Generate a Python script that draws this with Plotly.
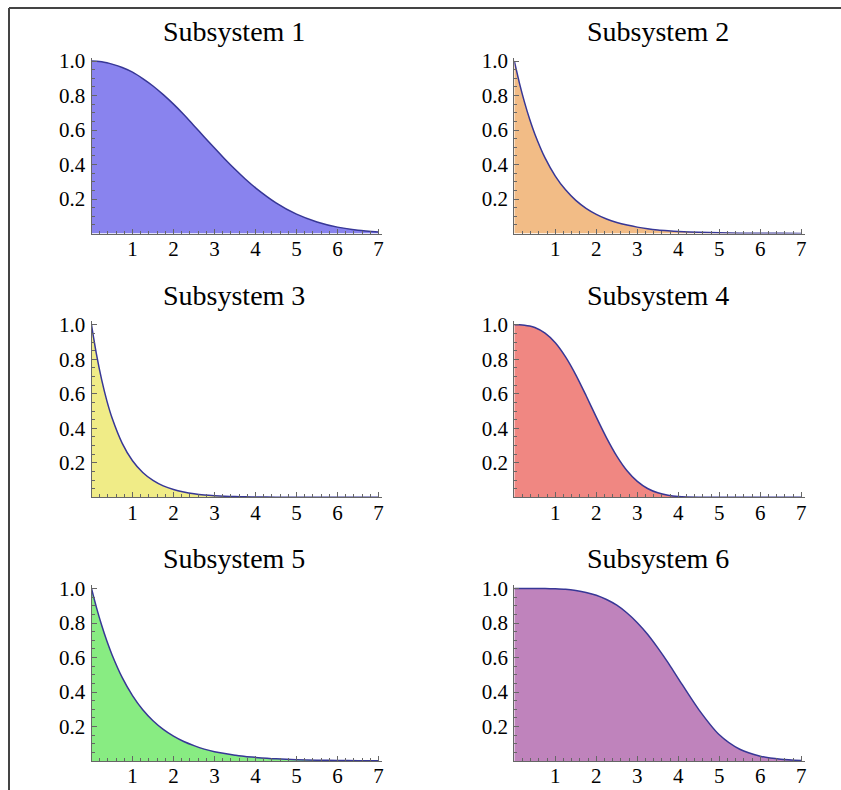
import plotly.graph_objects as go

# ---------------- data ----------------
titles = ["Subsystem 1", "Subsystem 2", "Subsystem 3",
          "Subsystem 4", "Subsystem 5", "Subsystem 6"]

t = [0, 0.125, 0.25, 0.375, 0.5, 0.75, 1, 1.25, 1.5, 1.75, 2, 2.25, 2.5,
     2.75, 3, 3.25, 3.5, 3.75, 4, 4.5, 5, 5.5, 6, 6.5, 7]

r1 = [1.0, 0.999, 0.996, 0.990, 0.982, 0.962, 0.935, 0.898, 0.855, 0.805,
      0.750, 0.690, 0.625, 0.560, 0.495, 0.432, 0.372, 0.316, 0.265, 0.178,
      0.112, 0.067, 0.037, 0.019, 0.009]
r2 = [1.0, 0.872, 0.760, 0.662, 0.577, 0.438, 0.333, 0.253, 0.192, 0.146,
      0.111, 0.084, 0.064, 0.049, 0.037, 0.028, 0.021, 0.016, 0.012, 0.007,
      0.004, 0.002, 0.0013, 0.0008, 0.0005]
r3 = [1.0, 0.824, 0.679, 0.559, 0.461, 0.313, 0.212, 0.144, 0.098, 0.066,
      0.045, 0.031, 0.021, 0.014, 0.0096, 0.0065, 0.0044, 0.003, 0.002,
      0.0009, 0.0004, 0.0002, 0.0001, 0.0, 0.0]
r4 = [1.0, 1.0, 0.998, 0.993, 0.984, 0.952, 0.896, 0.814, 0.710, 0.590,
      0.465, 0.345, 0.239, 0.154, 0.092, 0.051, 0.026, 0.012, 0.005, 0.0006,
      0.0, 0.0, 0.0, 0.0, 0.0]
r5 = [1.0, 0.886, 0.785, 0.695, 0.616, 0.483, 0.379, 0.297, 0.233, 0.183,
      0.144, 0.113, 0.089, 0.069, 0.054, 0.043, 0.034, 0.026, 0.021, 0.013,
      0.0078, 0.0048, 0.003, 0.0018, 0.0011]
r6 = [1.0, 1.0, 1.0, 1.0, 1.0, 0.9995, 0.998, 0.995, 0.988, 0.977,
      0.961, 0.936, 0.903, 0.858, 0.802, 0.735, 0.656, 0.570, 0.478, 0.298,
      0.152, 0.068, 0.028, 0.010, 0.003]
series = [r1, r2, r3, r4, r5, r6]

x_tick_vals = [1, 2, 3, 4, 5, 6, 7]
x_tick_text = ["1", "2", "3", "4", "5", "6", "7"]
y_tick_vals = [0.2, 0.4, 0.6, 0.8, 1.0]
y_tick_text = ["0.2", "0.4", "0.6", "0.8", "1.0"]

# ---------------- styling ----------------
fill_colors = ["rgb(137,131,238)", "rgb(242,188,134)", "rgb(240,236,135)",
               "rgb(240,135,130)", "rgb(136,236,130)", "rgb(191,131,188)"]
line_color = "rgb(55,55,150)"
axis_color = "#666666"
W, H = 841, 790

col_x0 = [91.5, 514.3]           # pixel position of t = 0
x_scale = 41.0                    # px per unit t
row_y0 = [233.5, 497.3, 761.0]    # pixel position of R = 0
y_scale = 172.5                   # px per unit R
x_max, y_max = 7.08, 1.02
title_px_x = [233.5, 657.5]
title_px_y = [32, 295, 558]

fig = go.Figure()
layout = dict(width=W, height=H,
              margin=dict(l=0, r=0, t=0, b=0, pad=0, autoexpand=False),
              paper_bgcolor="white", plot_bgcolor="rgba(0,0,0,0)",
              showlegend=False, annotations=[], shapes=[])

minor_x = [i * 0.2 for i in range(0, 36)]
minor_y = [i * 0.05 for i in range(0, 21)]
serif = "Liberation Serif, Times New Roman, serif"
tick_font = dict(family=serif, size=21, color="black")

for i in range(6):
    row, col = i // 2, i % 2
    n = "" if i == 0 else str(i + 1)
    xa, ya = "x" + n, "y" + n
    fig.add_trace(go.Scatter(
        x=t, y=series[i], xaxis=xa, yaxis=ya, mode="lines",
        line=dict(color=line_color, width=1.5, shape="spline", smoothing=0.8),
        fill="tozeroy", fillcolor=fill_colors[i], hoverinfo="skip"))

    dx0 = col_x0[col] / W
    dx1 = (col_x0[col] + x_max * x_scale) / W
    dy0 = 1 - row_y0[row] / H
    dy1 = 1 - (row_y0[row] - y_max * y_scale) / H

    layout["xaxis" + n] = dict(
        domain=[dx0, dx1], range=[0, x_max], anchor=ya, automargin=False,
        showline=True, linecolor=axis_color, linewidth=1,
        showgrid=False, zeroline=False,
        tickmode="array", tickvals=x_tick_vals, ticktext=x_tick_text,
        ticks="inside", ticklen=5, tickwidth=1, tickcolor=axis_color,
        minor=dict(tickmode="array", tickvals=minor_x, ticks="inside",
                   ticklen=3, tickwidth=1, tickcolor=axis_color, showgrid=False),
        tickfont=tick_font, ticklabelstandoff=-4, fixedrange=True)
    layout["yaxis" + n] = dict(
        domain=[dy0, dy1], range=[0, y_max], anchor=xa, automargin=False,
        showline=True, linecolor=axis_color, linewidth=1,
        showgrid=False, zeroline=False,
        tickmode="array", tickvals=y_tick_vals, ticktext=y_tick_text,
        ticks="inside", ticklen=5, tickwidth=1, tickcolor=axis_color,
        minor=dict(tickmode="array", tickvals=minor_y, ticks="inside",
                   ticklen=3, tickwidth=1, tickcolor=axis_color, showgrid=False),
        tickfont=tick_font, ticklabelstandoff=1, fixedrange=True)

    layout["annotations"].append(dict(
        text=titles[i], xref="paper", yref="paper",
        x=title_px_x[col] / W, y=1 - title_px_y[row] / H,
        xanchor="center", yanchor="middle", showarrow=False,
        font=dict(family=serif, size=28, color="black")))

# outer frame (top and left edges)
frame_x, frame_y = 9 / W, 1 - 8 / H
layout["shapes"].append(dict(type="line", xref="paper", yref="paper",
                             x0=frame_x, y0=frame_y, x1=1, y1=frame_y,
                             line=dict(color="#444444", width=2)))
layout["shapes"].append(dict(type="line", xref="paper", yref="paper",
                             x0=frame_x, y0=0, x1=frame_x, y1=frame_y,
                             line=dict(color="#444444", width=2)))

fig.update_layout(**layout)
fig.write_html("out.html",
               config={"displayModeBar": False, "staticPlot": True},
               post_script="document.body.style.margin='0px';")
